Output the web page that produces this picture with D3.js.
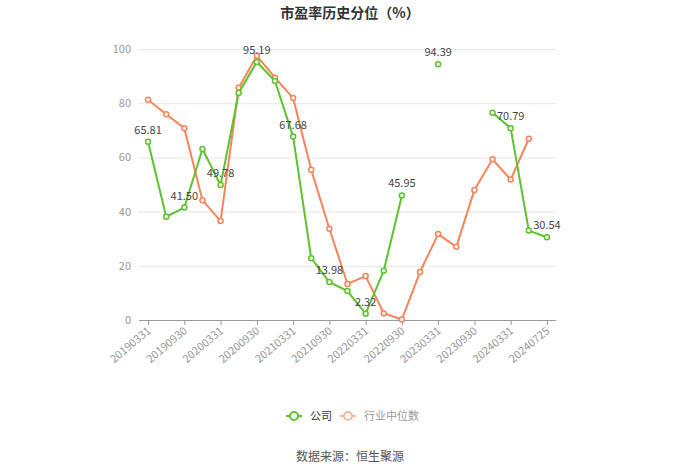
<!DOCTYPE html>
<html><head><meta charset="utf-8">
<script src="https://cdn.jsdelivr.net/npm/d3@7/dist/d3.min.js"></script>
<style>body{margin:0;background:#fff;font-family:"Microsoft YaHei","Noto Sans CJK SC",sans-serif;}</style>
</head><body><svg id="c" width="700" height="474"></svg>
<script>
const categories = ["20190331","20190630","20190930","20191231","20200331","20200630","20200930","20201231","20210331","20210630","20210930","20211231","20220331","20220630","20220930","20221231","20230331","20230630","20230930","20231231","20240331","20240630","20240725"];
const companyValues = [65.81,38.1,41.50,63.1,49.78,83.9,95.19,88.2,67.68,22.8,13.98,10.7,2.32,18.2,45.95,null,94.39,null,null,76.5,70.79,33.0,30.54];
const industryValues = [81.3,75.9,70.8,44.2,36.5,85.7,97.5,89.4,81.9,55.4,33.7,13.3,16.2,2.5,0.2,17.7,31.7,27.0,48.0,59.3,51.8,66.9,null];
const yTicks = [0,20,40,60,80,100];
const seriesNames = ["公司","行业中位数"];
const colors = ["#5cc22e","#f5845a"];

const svg = d3.select("#c");
const pLeft=139, pRight=556, pTop=49, pBottom=320;
const x = d3.scalePoint().domain(categories).range([pLeft,pRight]).padding(0.5);
const y = d3.scaleLinear().domain([0,100]).range([pBottom,pTop]);

svg.append("text").attr("x",350).attr("y",18).attr("text-anchor","middle")
  .attr("font-size",14).attr("font-weight","bold").attr("fill","#333").text("市盈率历史分位（%）");

// grid
svg.append("g").selectAll("line").data(yTicks.filter(d=>d>0)).join("line")
  .attr("x1",pLeft).attr("x2",pRight).attr("y1",d=>y(d)+0.5).attr("y2",d=>y(d)+0.5)
  .attr("stroke","#e6e6e6").attr("stroke-width",1);

// y axis labels
const ya = svg.append("g").attr("transform",`translate(${pLeft},0)`)
  .call(d3.axisLeft(y).tickValues(yTicks).tickSize(0).tickPadding(8));
ya.select(".domain").remove();
ya.selectAll("text").attr("fill","#999").attr("font-size",11).attr("font-family","'Microsoft YaHei','Noto Sans CJK SC',sans-serif");

// x axis
const labelCats = categories.filter((d,i)=>i%2===0);
const xa = svg.append("g").attr("transform",`translate(0,${pBottom})`)
  .call(d3.axisBottom(x).tickValues(labelCats).tickSize(5).tickSizeOuter(0));
xa.select(".domain").attr("d",`M${pLeft},0.5H${pRight}`).attr("stroke","#999");
xa.selectAll(".tick line").attr("stroke","#999");
xa.selectAll(".tick text").attr("fill","#999").attr("font-size",11)
  .attr("font-family","'Microsoft YaHei','Noto Sans CJK SC',sans-serif")
  .attr("text-anchor","end").attr("dy",0).attr("y",0).attr("transform","translate(3,12) rotate(-40)");

function drawSeries(vals, color, labels){
  const line = d3.line().defined(d=>d!=null).x((d,i)=>x(categories[i])).y(d=>y(d));
  svg.append("path").datum(vals).attr("d",line).attr("fill","none")
    .attr("stroke",color).attr("stroke-width",2).attr("stroke-linejoin","round");
  const pts = vals.map((v,i)=>({v,i})).filter(d=>d.v!=null);
  svg.append("g").selectAll("circle").data(pts).join("circle")
    .attr("cx",d=>x(categories[d.i])).attr("cy",d=>y(d.v)).attr("r",2.5)
    .attr("fill","#fff").attr("stroke",color).attr("stroke-width",1.5);
  if(labels){
    svg.append("g").selectAll("text").data(pts.filter(d=>d.i%2===0)).join("text")
      .attr("x",d=>x(categories[d.i])).attr("y",d=>y(d.v)-8)
      .attr("text-anchor","middle").attr("font-size",11).attr("fill","#444")
      .text(d=>d.v.toFixed(2));
  }
}
drawSeries(industryValues, colors[1], false);
drawSeries(companyValues, colors[0], true);

// legend
const leg = [{x:286, c:colors[0], t:"#333", n:seriesNames[0]},{x:340, c:"#f8b89c", t:"#999", n:seriesNames[1]}];
leg.forEach(l=>{
  const g = svg.append("g");
  g.append("line").attr("x1",l.x).attr("x2",l.x+16).attr("y1",416).attr("y2",416).attr("stroke",l.c).attr("stroke-width",2);
  g.append("circle").attr("cx",l.x+8).attr("cy",416).attr("r",4).attr("fill","#fff").attr("stroke",l.c).attr("stroke-width",2);
  g.append("text").attr("x",l.x+24).attr("y",420).attr("font-size",11).attr("fill",l.t).text(l.n);
});

svg.append("text").attr("x",350).attr("y",461).attr("text-anchor","middle")
  .attr("font-size",12).attr("fill","#555").text("数据来源：恒生聚源");
</script></body></html>
